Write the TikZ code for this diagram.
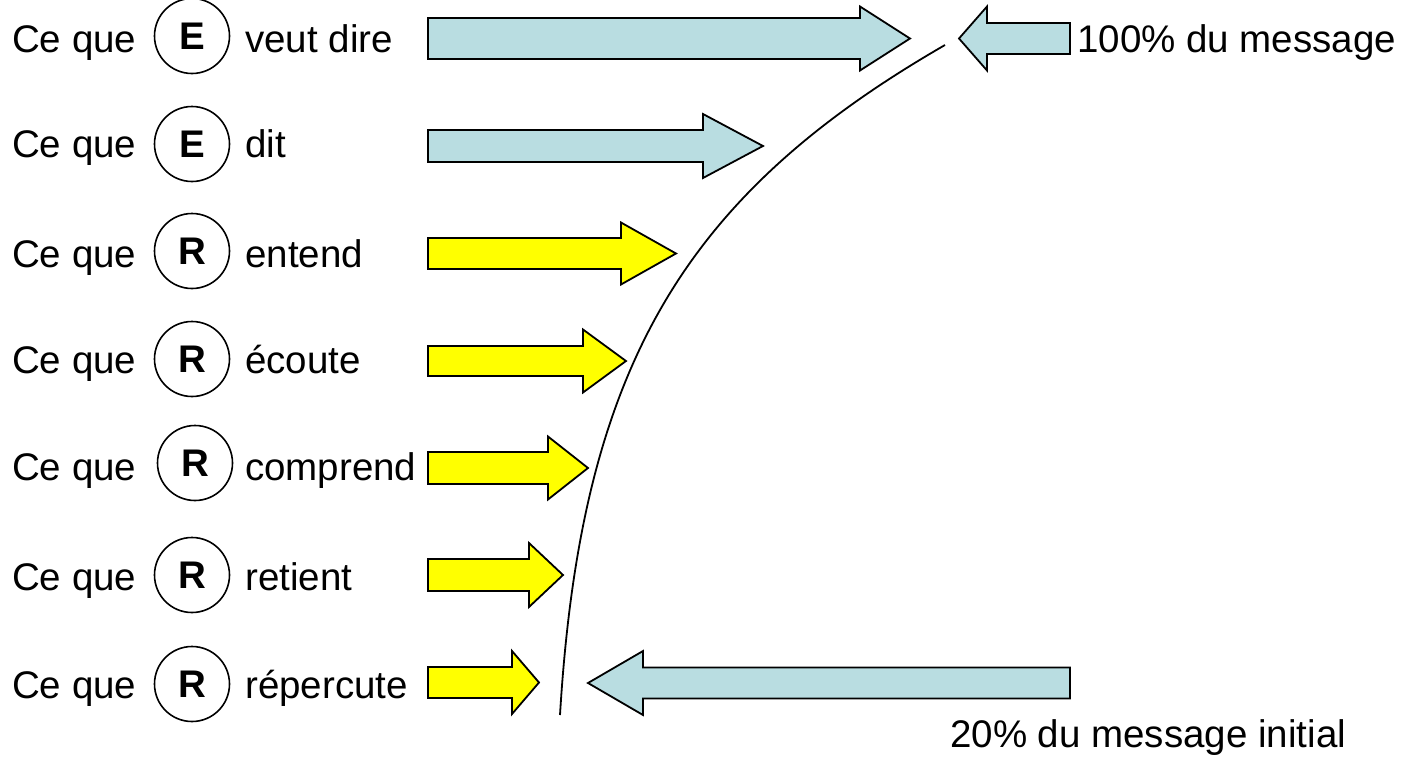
\documentclass[tikz,border=0pt]{standalone}
\usepackage{fontspec}
\setmainfont{Liberation Sans}
\definecolor{paleblue}{HTML}{B9DDE1}
\definecolor{brightyellow}{HTML}{FFFF00}
\newcommand{\blockarrow}[7]{%
  \draw[arrowline, fill=#7] (#1,#4-#5) -- (#2,#4-#5) -- (#2,#4-#6) -- (#3,#4)
     -- (#2,#4+#6) -- (#2,#4+#5) -- (#1,#4+#5) -- cycle;}
\begin{document}
\begin{tikzpicture}[x=1pt,y=-1pt,
  txt/.style={font=\fontsize{38.5}{46}\selectfont, inner sep=0pt, anchor=base west},
  letter/.style={font=\fontsize{38.5}{46}\selectfont\bfseries},
  ring/.style={draw, circle, line width=1.6pt, minimum size=75pt, inner sep=0pt},
  arrowline/.style={draw=black, line width=1.8pt, line join=miter},
  curveline/.style={line width=1.8pt}]
\useasboundingbox (0,0) rectangle (1406,763);

% left column
\foreach \ty/\cx/\cy/\L/\w/\n in {52/192/36/E/veut dire/1, 157/192/144/E/dit/2,
  267/192/251/R/entend/3, 373/192/359/R/écoute/4, 480/195/463/R/comprend/5,
  590/192/575/R/retient/6, 698/192/684/R/répercute/7}{
  \node[txt] (ce\n) at (12,\ty) {Ce que};
  \node[ring, letter] (c\n) at (\cx,\cy) {\L};
  \node[txt] (w\n) at (245,\ty) {\w};
}

% right-pointing arrows
\blockarrow{428}{860}{910}{38.5}{20.5}{32}{paleblue}
\blockarrow{428}{703}{763}{146}{16}{32}{paleblue}
\blockarrow{428}{621}{676}{253.5}{15.5}{31}{brightyellow}
\blockarrow{428}{583}{626}{361}{15}{31.5}{brightyellow}
\blockarrow{428}{548}{588}{468}{16}{31.5}{brightyellow}
\blockarrow{428}{529}{563}{575}{16}{32}{brightyellow}
\blockarrow{428}{512}{539}{682.5}{15.5}{31.5}{brightyellow}

% left-pointing arrows
\blockarrow{1070}{987}{959}{38.5}{15.5}{32}{paleblue}
\blockarrow{1070}{643}{588}{683}{15.5}{32}{paleblue}

% curve
\coordinate (ctop) at (945,45);
\coordinate (cbot) at (560,715);
\draw[curveline] (ctop) .. controls (685,195) and (581,365) .. (cbot);

% right labels
\node[txt] (full) at (1077,52) {100\% du message};
\node[txt] (part) at (950,747) {20\% du message initial};
\end{tikzpicture}
\end{document}
